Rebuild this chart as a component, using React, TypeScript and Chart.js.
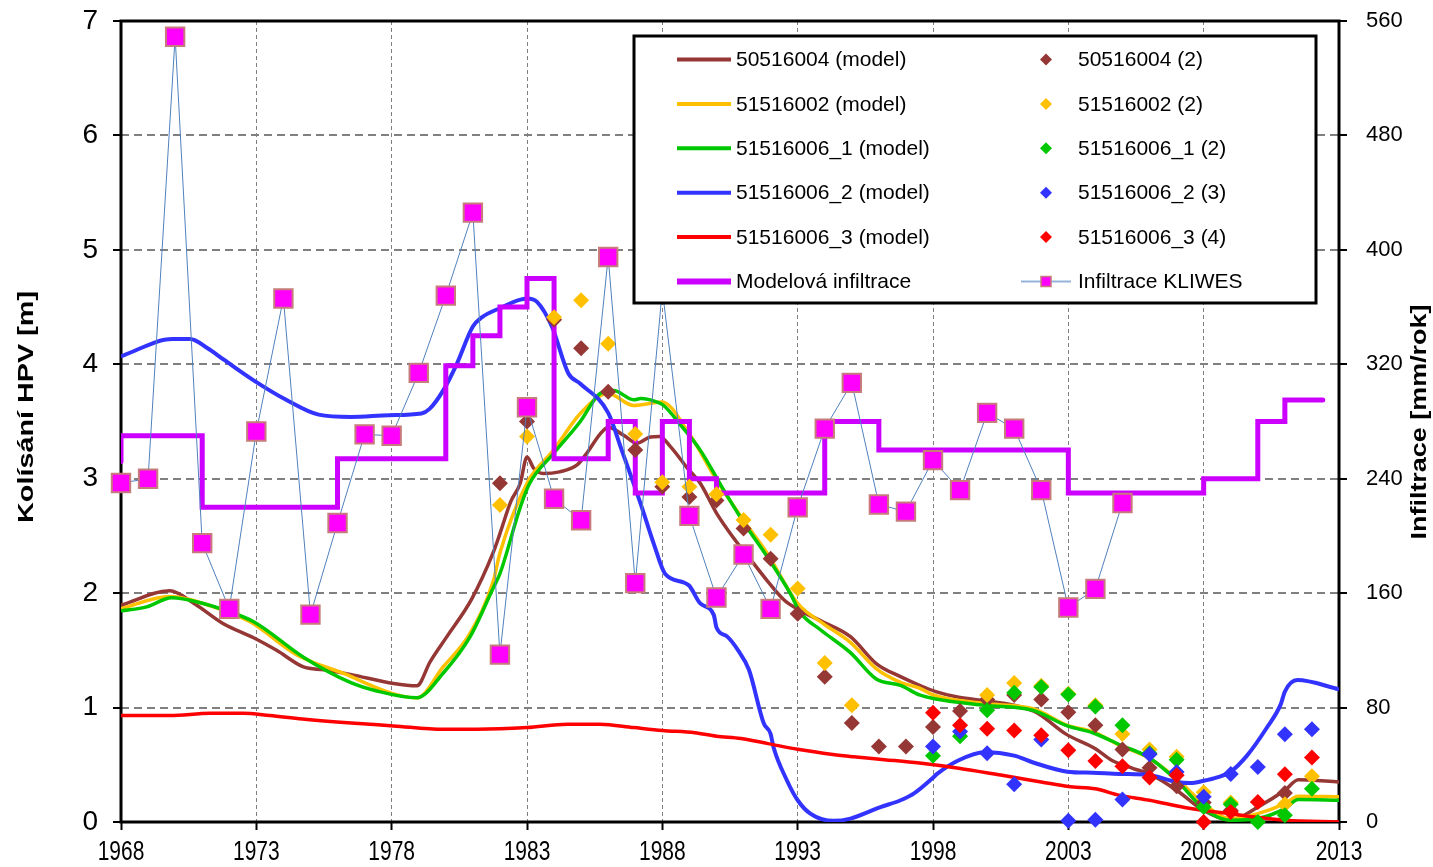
import { useEffect, useRef } from "react";
import { Chart, registerables } from "chart.js";

Chart.register(...registerables);

const FONT = "'Liberation Sans', Arial, Helvetica, sans-serif";

// Series colours
const BROWN = "#953735";
const GOLD = "#FFC000";
const GREEN = "#00C800";
const BLUE = "#3333FF";
const RED = "#FF0000";
const PURPLE = "#CC00FF";
const MAGENTA = "#FF00FF";
const SQUARE_EDGE = "#C77B7B";
const KLIWES_LINE = "#4F81BD";

// Axis ranges
const YEAR_MIN = 1968;
const YEAR_MAX = 2013;
const YEAR_STEP = 5;
const LEVEL_MAX = 7;
const LEVEL_STEP = 1;
const INFIL_MAX = 560;
const INFIL_STEP = 80;

const LEFT_TITLE = "Kolísání HPV [m]";
const RIGHT_TITLE = "Infiltrace [mm/rok]";

// Modelled groundwater level fluctuation [m]
const brownModelYears = [1968, 1969.8, 1970.7, 1971.8, 1972.9, 1973.75, 1974.74, 1975.5, 1976.47, 1978.07, 1978.93, 1979.42, 1980.04, 1980.96, 1981.76, 1982.0, 1982.4, 1982.75, 1983.0, 1983.25, 1983.6, 1984.2, 1984.85, 1985.2, 1985.7, 1986.0, 1986.57, 1987.06, 1987.56, 1987.9, 1988.3, 1988.9, 1989.4, 1990.0, 1990.64, 1991.37, 1991.87, 1992.5, 1993.0, 1993.84, 1994.95, 1995.9, 1996.8, 1997.5, 1998.1, 1998.95, 1999.9, 2001.0, 2001.7, 2002.0, 2002.9, 2004.0, 2004.6, 2005.4, 2006.0, 2007.0, 2008.0, 2009.0, 2010.0, 2011.0, 2011.5, 2013.0];
const brownModelLevels = [1.895, 2.02, 1.91, 1.73, 1.61, 1.5, 1.355, 1.33, 1.29, 1.21, 1.19, 1.4, 1.62, 1.95, 2.36, 2.52, 2.8, 2.96, 3.19, 3.09, 3.045, 3.06, 3.12, 3.22, 3.39, 3.45, 3.38, 3.31, 3.365, 3.37, 3.28, 3.1, 2.96, 2.7, 2.48, 2.26, 2.11, 1.94, 1.86, 1.76, 1.62, 1.385, 1.27, 1.195, 1.14, 1.09, 1.06, 1.02, 0.97, 0.93, 0.77, 0.64, 0.54, 0.467, 0.42, 0.277, 0.1, 0.015, 0.13, 0.277, 0.37, 0.35];

const goldModelYears = [1968, 1969.8, 1971.3, 1972.77, 1974.5, 1976.2, 1978.07, 1978.93, 1979.9, 1980.9, 1981.76, 1982.0, 1983.0, 1983.98, 1984.97, 1986.0, 1986.94, 1987.98, 1989.0, 1990.0, 1990.99, 1991.87, 1993.0, 1993.97, 1994.95, 1995.9, 1996.8, 1997.5, 1998.0, 1999.9, 2001.7, 2002.96, 2003.9, 2004.9, 2006.0, 2007.0, 2008.0, 2009.0, 2010.0, 2011.0, 2011.5, 2013.0];
const goldModelLevels = [1.865, 1.97, 1.89, 1.75, 1.46, 1.3, 1.12, 1.085, 1.355, 1.65, 2.11, 2.35, 2.96, 3.25, 3.57, 3.745, 3.64, 3.67, 3.39, 2.99, 2.64, 2.35, 1.91, 1.73, 1.57, 1.34, 1.22, 1.17, 1.11, 1.035, 0.99, 0.845, 0.79, 0.67, 0.555, 0.38, 0.16, 0.03, 0.073, 0.16, 0.225, 0.22];

const greenModelYears = [1968, 1968.95, 1969.87, 1971.04, 1971.66, 1972.9, 1974.74, 1976.47, 1977.45, 1978.93, 1979.9, 1980.9, 1981.76, 1982.0, 1982.75, 1983.1, 1983.98, 1984.97, 1985.7, 1986.2, 1986.94, 1987.2, 1987.8, 1988.05, 1988.67, 1989.4, 1990.27, 1991.0, 1991.87, 1992.72, 1993.1, 1993.84, 1994.95, 1995.9, 1996.8, 1997.5, 1998.0, 1999.9, 2001.7, 2002.96, 2003.9, 2004.9, 2006.0, 2007.0, 2008.0, 2009.0, 2010.0, 2011.0, 2011.5, 2013.0];
const greenModelLevels = [1.845, 1.88, 1.96, 1.91, 1.865, 1.75, 1.44, 1.22, 1.145, 1.085, 1.3, 1.62, 2.05, 2.17, 2.75, 2.96, 3.22, 3.5, 3.745, 3.77, 3.69, 3.7, 3.67, 3.64, 3.47, 3.25, 2.9, 2.62, 2.32, 2.0, 1.83, 1.68, 1.48, 1.25, 1.195, 1.11, 1.08, 1.02, 0.975, 0.84, 0.78, 0.675, 0.56, 0.365, 0.117, 0.015, 0.03, 0.117, 0.196, 0.19];

const blueModelYears = [1968, 1969.9, 1970.55, 1971.2, 1971.8, 1972.9, 1974.1, 1975.3, 1976.5, 1977.9, 1979.1, 1979.4, 1979.9, 1980.4, 1981.0, 1981.33, 1982.0, 1983.0, 1983.37, 1983.92, 1984.53, 1984.97, 1986.0, 1986.5, 1987.2, 1987.7, 1988.1, 1988.97, 1989.4, 1989.9, 1990.0, 1990.4, 1990.8, 1991.2, 1991.75, 1992.0, 1992.1, 1992.6, 1993.0, 1993.47, 1994.33, 1994.95, 1996.06, 1996.8, 1997.3, 1997.97, 1998.15, 1998.95, 1999.9, 2001.0, 2001.7, 2002.96, 2003.9, 2004.9, 2005.98, 2007.0, 2007.5, 2008.0, 2008.5, 2009.0, 2009.6, 2010.35, 2010.85, 2011.0, 2011.46, 2013.0];
const blueModelLevels = [4.07, 4.22, 4.22, 4.14, 4.04, 3.86, 3.69, 3.56, 3.54, 3.555, 3.57, 3.61, 3.77, 4.0, 4.33, 4.41, 4.49, 4.575, 4.545, 4.33, 3.92, 3.83, 3.575, 3.25, 2.78, 2.42, 2.17, 2.07, 1.91, 1.81, 1.7, 1.62, 1.5, 1.33, 0.86, 0.77, 0.66, 0.365, 0.19, 0.073, 0.01, 0.03, 0.13, 0.19, 0.25, 0.38, 0.42, 0.54, 0.61, 0.58, 0.52, 0.44, 0.43, 0.42, 0.41, 0.35, 0.34, 0.36, 0.39, 0.44, 0.58, 0.83, 1.03, 1.14, 1.24, 1.16];

const redModelYears = [1968, 1969.8, 1971.3, 1972.5, 1973.5, 1974.7, 1976.5, 1978.07, 1979.9, 1981.15, 1983.0, 1984.5, 1985.7, 1986.94, 1988.0, 1989.2, 1990.0, 1990.9, 1991.9, 1993.0, 1994.3, 1995.07, 1996.2, 1997.5, 1998.95, 2000.5, 2002.0, 2003.0, 2004.0, 2004.9, 2006.0, 2007.3, 2008.0, 2009.0, 2010.0, 2011.0, 2013.0];
const redModelLevels = [0.93, 0.93, 0.95, 0.95, 0.93, 0.9, 0.865, 0.84, 0.81, 0.81, 0.825, 0.855, 0.855, 0.825, 0.8, 0.78, 0.75, 0.73, 0.685, 0.635, 0.59, 0.57, 0.545, 0.515, 0.47, 0.41, 0.35, 0.31, 0.29, 0.233, 0.19, 0.126, 0.1, 0.073, 0.04, 0.015, 0.0];

// Observed groundwater levels [m]
const brownObsYears = [1982, 1983, 1984, 1985, 1986, 1987, 1988, 1989, 1990, 1991, 1992, 1993, 1994, 1995, 1996, 1997, 1998, 1999, 2000, 2001, 2002, 2003, 2004, 2005, 2006, 2007, 2008, 2009, 2011];
const brownObsLevels = [2.96, 3.5, 4.39, 4.14, 3.76, 3.25, 2.93, 2.84, 2.81, 2.565, 2.3, 1.82, 1.27, 0.865, 0.66, 0.66, 0.83, 0.97, 1.07, 1.11, 1.07, 0.96, 0.845, 0.633, 0.475, 0.312, 0.17, 0.1, 0.254];

const goldObsYears = [1982, 1983, 1984, 1985, 1986, 1987, 1988, 1989, 1990, 1991, 1992, 1993, 1994, 1995, 2000, 2001, 2002, 2003, 2004, 2005, 2006, 2007, 2008, 2009, 2011, 2012];
const goldObsLevels = [2.77, 3.37, 4.41, 4.56, 4.18, 3.39, 2.97, 2.93, 2.865, 2.64, 2.51, 2.04, 1.39, 1.02, 1.11, 1.215, 1.19, 1.12, 1.02, 0.77, 0.633, 0.57, 0.26, 0.17, 0.155, 0.4];

const greenObsYears = [1998, 1999, 2000, 2001, 2002, 2003, 2004, 2005, 2006, 2007, 2008, 2009, 2010, 2011, 2012];
const greenObsLevels = [0.58, 0.75, 0.976, 1.13, 1.18, 1.115, 1.01, 0.845, 0.6, 0.545, 0.13, 0.155, 0.0, 0.058, 0.29];

const blueObsYears = [1998, 1999, 2000, 2001, 2002, 2003, 2004, 2005, 2006, 2007, 2008, 2009, 2010, 2011, 2012];
const blueObsLevels = [0.66, 0.79, 0.6, 0.33, 0.72, 0.01, 0.02, 0.196, 0.592, 0.437, 0.22, 0.42, 0.48, 0.767, 0.81];

const redObsYears = [1998, 1999, 2000, 2001, 2002, 2003, 2004, 2005, 2006, 2007, 2008, 2009, 2010, 2011, 2012];
const redObsLevels = [0.955, 0.845, 0.815, 0.8, 0.758, 0.627, 0.533, 0.487, 0.388, 0.408, 0.0, 0.087, 0.175, 0.417, 0.563];

// Model infiltration [mm/rok], step changes
const infilStepYears = [1968, 1968, 1971, 1976, 1980, 1981, 1982, 1983, 1984, 1986, 1987, 1988, 1989, 1990, 1994, 1996, 2003, 2008, 2010, 2011, 2012.4];
const infilStepValues = [252, 270, 220, 254, 319, 340, 360, 380, 254, 280, 230, 280, 240, 230, 280, 260, 230, 240, 280, 295, 295];

// KLIWES infiltration [mm/rok], annual
const kliwesYears = [1968, 1969, 1970, 1971, 1972, 1973, 1974, 1975, 1976, 1977, 1978, 1979, 1980, 1981, 1982, 1983, 1984, 1985, 1986, 1987, 1988, 1989, 1990, 1991, 1992, 1993, 1994, 1995, 1996, 1997, 1998, 1999, 2000, 2001, 2002, 2003, 2004, 2005];
const kliwesValues = [237, 240, 549, 195, 149, 273, 366, 145, 209, 271, 270, 314, 368, 426, 117, 290, 226, 211, 395, 167, 372, 214, 157, 187, 149, 220, 275, 307, 222, 217, 253, 232, 286, 275, 232, 150, 163, 223];

const pts = (xs: number[], ys: number[]) => xs.map((x, i) => ({ x, y: ys[i] }));

const modelLine = (label: string, xs: number[], ys: number[], color: string, width: number, order: number) => ({
  label,
  data: pts(xs, ys),
  borderColor: color,
  backgroundColor: color,
  borderWidth: width,
  pointRadius: 0,
  cubicInterpolationMode: "monotone" as const,
  yAxisID: "y",
  order,
});

const obsMarkers = (label: string, xs: number[], ys: number[], color: string, order: number) => ({
  label,
  data: pts(xs, ys),
  showLine: false,
  pointStyle: "rectRot" as const,
  pointRadius: 8,
  pointBackgroundColor: color,
  pointBorderColor: color,
  pointBorderWidth: 0,
  borderColor: color,
  backgroundColor: color,
  yAxisID: "y",
  clip: false,
  order,
});

const legendLines = [
  { label: "50516004 (model)", color: BROWN, width: 4 },
  { label: "51516002 (model)", color: GOLD, width: 4 },
  { label: "51516006_1 (model)", color: GREEN, width: 4 },
  { label: "51516006_2 (model)", color: BLUE, width: 4 },
  { label: "51516006_3 (model)", color: RED, width: 4 },
  { label: "Modelová infiltrace", color: PURPLE, width: 6 },
];
const legendMarkers = [
  { label: "50516004 (2)", color: BROWN },
  { label: "51516002 (2)", color: GOLD },
  { label: "51516006_1 (2)", color: GREEN },
  { label: "51516006_2 (3)", color: BLUE },
  { label: "51516006_3 (4)", color: RED },
  { label: "Infiltrace KLIWES", color: MAGENTA },
];

function drawTitle(ctx: CanvasRenderingContext2D, text: string, cx: number, cy: number, length: number) {
  ctx.save();
  ctx.translate(cx, cy);
  ctx.rotate(-Math.PI / 2);
  ctx.font = `bold 22px ${FONT}`;
  ctx.textAlign = "center";
  ctx.textBaseline = "middle";
  const w = ctx.measureText(text).width;
  ctx.scale(length / w, 1);
  ctx.fillStyle = "#000";
  ctx.fillText(text, 0, 0);
  ctx.restore();
}

function drawLegend(ctx: CanvasRenderingContext2D) {
  const bx = 634, by = 36, bw = 682, bh = 267;
  ctx.save();
  ctx.fillStyle = "#fff";
  ctx.fillRect(bx, by, bw, bh);
  ctx.strokeStyle = "#000";
  ctx.lineWidth = 3;
  ctx.strokeRect(bx, by, bw, bh);
  ctx.font = `21px ${FONT}`;
  ctx.textAlign = "left";
  ctx.textBaseline = "middle";
  legendLines.forEach((item, i) => {
    const y = 59.5 + i * 44.4;
    ctx.strokeStyle = item.color;
    ctx.lineWidth = item.width;
    ctx.beginPath();
    ctx.moveTo(677, y);
    ctx.lineTo(731, y);
    ctx.stroke();
    ctx.fillStyle = "#000";
    ctx.fillText(item.label, 736, y + 1);
  });
  legendMarkers.forEach((item, i) => {
    const y = 59.5 + i * 44.4;
    const mx = 1046;
    if (i === legendMarkers.length - 1) {
      ctx.strokeStyle = "#95B3D7";
      ctx.lineWidth = 2;
      ctx.beginPath();
      ctx.moveTo(1021, y);
      ctx.lineTo(1071, y);
      ctx.stroke();
      ctx.fillStyle = item.color;
      ctx.fillRect(mx - 5, y - 5, 10, 10);
      ctx.strokeStyle = SQUARE_EDGE;
      ctx.lineWidth = 1.5;
      ctx.strokeRect(mx - 5, y - 5, 10, 10);
    } else {
      ctx.fillStyle = item.color;
      ctx.beginPath();
      ctx.moveTo(mx, y - 6);
      ctx.lineTo(mx + 6, y);
      ctx.lineTo(mx, y + 6);
      ctx.lineTo(mx - 6, y);
      ctx.closePath();
      ctx.fill();
    }
    ctx.fillStyle = "#000";
    ctx.fillText(item.label, 1078, y + 1);
  });
  ctx.restore();
}

const decorPlugin = {
  id: "decor",
  beforeDatasetsDraw(chart: Chart) {
    const { ctx, chartArea: a } = chart;
    ctx.save();
    ctx.strokeStyle = "#000";
    ctx.lineWidth = 3;
    ctx.strokeRect(a.left, a.top, a.right - a.left, a.bottom - a.top);
    ctx.restore();
  },
  afterDraw(chart: Chart) {
    const { ctx, chartArea: a } = chart;
    const xs = chart.scales.x;
    ctx.save();
    ctx.fillStyle = "#000";
    ctx.font = `21px ${FONT}`;
    ctx.textAlign = "center";
    ctx.textBaseline = "middle";
    xs.ticks.forEach((t) => {
      const px = xs.getPixelForValue(t.value);
      ctx.save();
      ctx.translate(px, a.bottom + 30);
      ctx.scale(1, 1.3);
      ctx.fillText(String(t.value), 0, 0);
      ctx.restore();
    });
    ctx.restore();
    drawTitle(ctx, LEFT_TITLE, 27, 407, 232);
    drawTitle(ctx, RIGHT_TITLE, 1420, 422, 235);
    drawLegend(ctx);
  },
};

// Fix a vertical axis' width and drop its label overflow padding
const fixVertical = (width: number) => (s: any) => {
  s.width = width;
  s.paddingTop = 0;
  s.paddingBottom = 0;
};

export default function App() {
  const canvasRef = useRef<HTMLCanvasElement>(null);

  useEffect(() => {
    const canvas = canvasRef.current;
    if (!canvas) return;
    const chart = new Chart(canvas, {
      type: "line",
      data: {
        datasets: [
          {
            label: "Infiltrace KLIWES",
            data: pts(kliwesYears, kliwesValues),
            yAxisID: "y1",
            borderColor: KLIWES_LINE,
            backgroundColor: MAGENTA,
            borderWidth: 1,
            pointStyle: "rect",
            pointRadius: 13,
            pointBackgroundColor: MAGENTA,
            pointBorderColor: SQUARE_EDGE,
            pointBorderWidth: 2,
            clip: false,
            order: 0,
          },
          obsMarkers("51516006_3 (4)", redObsYears, redObsLevels, RED, 1),
          obsMarkers("51516006_2 (3)", blueObsYears, blueObsLevels, BLUE, 2),
          obsMarkers("51516006_1 (2)", greenObsYears, greenObsLevels, GREEN, 3),
          obsMarkers("51516002 (2)", goldObsYears, goldObsLevels, GOLD, 4),
          obsMarkers("50516004 (2)", brownObsYears, brownObsLevels, BROWN, 5),
          {
            label: "Modelová infiltrace",
            data: pts(infilStepYears, infilStepValues),
            yAxisID: "y1",
            stepped: "before",
            borderColor: PURPLE,
            backgroundColor: PURPLE,
            borderWidth: 5,
            borderCapStyle: "round",
            pointRadius: 0,
            order: 6,
          },
          modelLine("51516006_3 (model)", redModelYears, redModelLevels, RED, 3.5, 7),
          modelLine("51516006_2 (model)", blueModelYears, blueModelLevels, BLUE, 4, 8),
          modelLine("51516006_1 (model)", greenModelYears, greenModelLevels, GREEN, 3.5, 9),
          modelLine("51516002 (model)", goldModelYears, goldModelLevels, GOLD, 3.5, 10),
          modelLine("50516004 (model)", brownModelYears, brownModelLevels, BROWN, 3.5, 11),
        ] as any,
      },
      options: {
        animation: false,
        responsive: false,
        events: [],
        layout: { padding: { top: 21, left: 0, right: 0, bottom: 0 } },
        plugins: { legend: { display: false }, tooltip: { enabled: false } },
        scales: {
          x: {
            type: "linear",
            min: YEAR_MIN,
            max: YEAR_MAX,
            ticks: { stepSize: YEAR_STEP, color: "rgba(0,0,0,0)", font: { family: FONT, size: 21 }, callback: (v: any) => String(v) },
            grid: { color: "#808080", lineWidth: 1, tickColor: "#000", tickWidth: 2, tickLength: 8 },
            border: { display: false, dash: [4, 3] },
            afterFit: (s: any) => { s.height = 45; s.paddingLeft = 0; s.paddingRight = 0; },
          },
          y: {
            type: "linear",
            position: "left",
            min: 0,
            max: LEVEL_MAX,
            ticks: { stepSize: LEVEL_STEP, color: "#000", padding: 15, font: { family: FONT, size: 28 } },
            grid: { color: "#808080", lineWidth: 2, tickColor: "#000", tickWidth: 2, tickLength: 8 },
            border: { display: false, dash: [8, 5] },
            afterFit: fixVertical(121),
          },
          y1: {
            type: "linear",
            position: "right",
            min: 0,
            max: INFIL_MAX,
            ticks: { stepSize: INFIL_STEP, color: "#000", padding: 19, font: { family: FONT, size: 22 } },
            grid: { drawOnChartArea: false, color: "#000", lineWidth: 2, tickColor: "#000", tickWidth: 2, tickLength: 8 },
            border: { display: false },
            afterFit: fixVertical(94),
          },
        },
      },
      plugins: [decorPlugin],
    } as any);
    return () => chart.destroy();
  }, []);

  return (
    <div style={{ position: "absolute", left: 0, top: 0, width: 1433, height: 867, background: "#fff" }}>
      <canvas ref={canvasRef} width={1433} height={867} style={{ display: "block" }} />
    </div>
  );
}
